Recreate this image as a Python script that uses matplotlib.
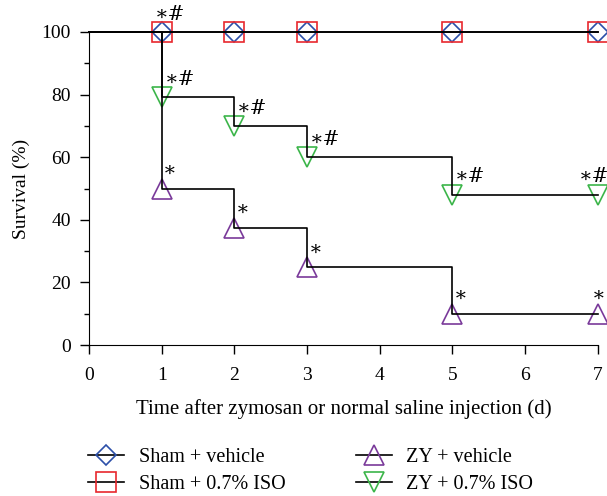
import numpy as np
import matplotlib
matplotlib.use('Agg')
import matplotlib.pyplot as plt
from matplotlib.lines import Line2D

plt.rcParams['font.family'] = ['Liberation Serif', 'DejaVu Serif']

# survival data (%)
days = [0, 1, 2, 3, 5, 7]
sham_vehicle = [100, 100, 100, 100, 100, 100]
sham_iso = [100, 100, 100, 100, 100, 100]
zy_vehicle = [100, 50, 37.5, 25, 10, 10]
zy_iso = [100, 79.2, 70, 60, 48, 48]

labels = ['Sham + vehicle', 'Sham + 0.7% ISO', 'ZY + vehicle', 'ZY + 0.7% ISO']
colors = ['#2b4fa8', '#e8282e', '#7a3a9a', '#3cb54a']
markers = ['D', 's', '^', 'v']
msizes = [10, 14, 14, 14]

# significance marks
sig_zy_vehicle = ['\u2217', '\u2217', '\u2217', '\u2217', '\u2217']
sig_zy_iso = ['\u2217#', '\u2217#', '\u2217#', '\u2217#', '\u2217#']
sig_top = '\u2217#'

fig = plt.figure(figsize=(6.07, 4.96), dpi=100)
ax = fig.add_axes([0.1466, 0.3044, 0.8384, 0.6311])

series = [sham_vehicle, sham_iso, zy_vehicle, zy_iso]
for s in series:
    ax.step(days, s, where='post', color='k', lw=1.2, zorder=3, clip_on=False)
for s, c, m, ms in zip(series, colors, markers, msizes):
    ax.plot(days[1:], s[1:], linestyle='none', marker=m, ms=ms, mfc='none',
            mec=c, mew=1.2, zorder=2, clip_on=False)

sig_font = dict(fontsize=14.5, ha='left', va='bottom', annotation_clip=False,
                family=['DejaVu Serif'])
for d, v, t in zip(days[1:], zy_vehicle[1:], sig_zy_vehicle):
    dx = -4 if d == days[-1] else 1
    ax.annotate(t, (d, v), xytext=(dx, 6), textcoords='offset points', **sig_font)
for d, v, t in zip(days[1:], zy_iso[1:], sig_zy_iso):
    dx = -14 if d == days[-1] else 2
    ax.annotate(t, (d, v), xytext=(dx, 6), textcoords='offset points', **sig_font)
ax.annotate(sig_top, (days[1], sham_vehicle[1]), xytext=(-5, 6),
            textcoords='offset points', **sig_font)

ax.set_xlim(0, 7)
ax.set_ylim(0, 100)
ax.set_xticks(range(0, 8))
ax.set_yticks(range(0, 101, 20))
ax.set_yticks(range(10, 100, 20), minor=True)
ax.spines['top'].set_visible(False)
ax.spines['right'].set_visible(False)
ax.tick_params(axis='both', which='major', direction='out', length=6.5, width=1,
               labelsize=14)
ax.tick_params(axis='x', which='major', pad=9)
ax.tick_params(axis='y', which='major', pad=6.5)
ax.tick_params(axis='y', which='minor', direction='out', length=3.6, width=1)
ax.set_xlabel('Time after zymosan or normal saline injection (d)', fontsize=15,
              labelpad=11)
ax.set_ylabel('Survival (%)', fontsize=14, labelpad=8)

handles = [Line2D([], [], color='k', lw=1.2, marker=m, ms=ms, mfc='none', mec=c,
                  mew=1.2) for c, m, ms in zip(colors, markers, msizes)]
fig.legend(handles, labels, ncol=2, frameon=False, fontsize=14.5,
           loc='upper left', bbox_to_anchor=(0.132, 0.114),
           handlelength=1.8, handletextpad=0.7, columnspacing=3.5,
           labelspacing=0.42, borderaxespad=0)

fig.savefig('out.png', dpi=100)
